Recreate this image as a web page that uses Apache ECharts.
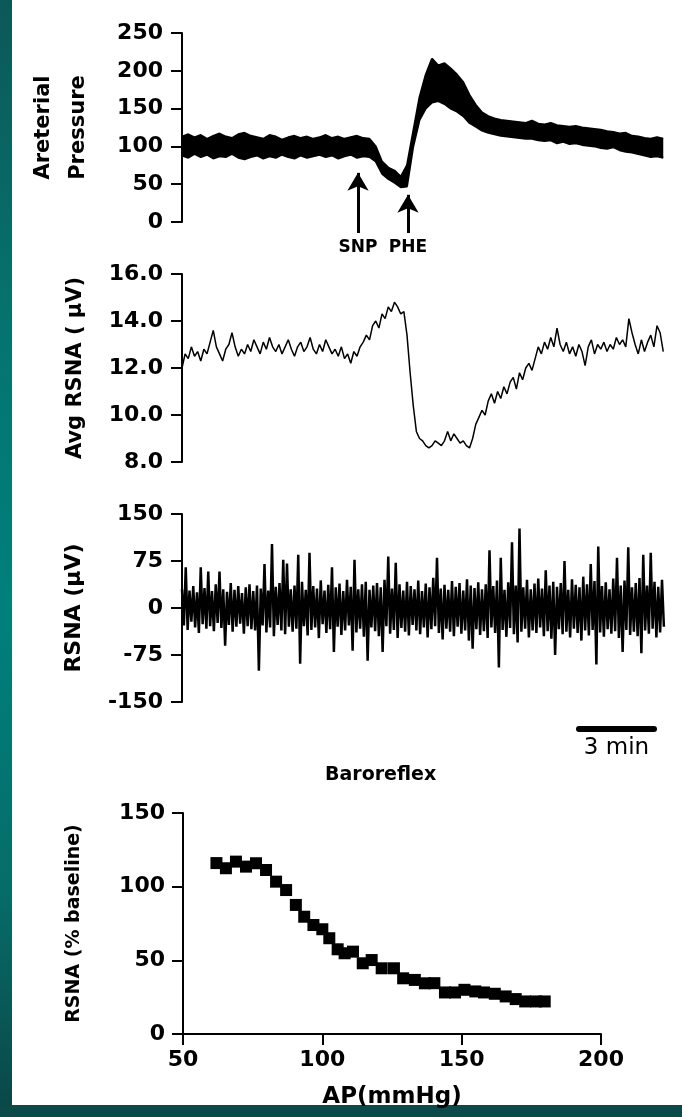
<!DOCTYPE html>
<html>
<head>
<meta charset="utf-8">
<title>Baroreflex</title>
<script src="https://cdn.jsdelivr.net/npm/echarts@6/dist/echarts.min.js"></script>
<style>
  html, body { margin: 0; padding: 0; background: #fff; }
  #chart { width: 682px; height: 1117px; }
</style>
</head>
<body>
<div id="chart"></div>
<script>
// sample spacing of each trace, minutes
var AP_STEP = 0.25
var AVG_STEP = 0.125
var RSNA_STEP = 0.15
var TRACE_MINUTES = 19.3
var PX_PER_MIN = 25

// arterial pressure, envelope of the pulsatile trace (mmHg)
var apUpper = [
  113, 116, 112, 115, 110, 114, 117, 113, 111, 116, 118, 114, 112, 110, 115, 113, 109, 112, 114, 111,
  113, 110, 112, 115, 111, 113, 110, 112, 114, 111, 110,
  100, 80, 72, 68, 60, 75, 120, 165, 195, 216, 207, 210, 203, 195, 185, 168, 155, 145, 140,
  137, 135, 134, 133, 132, 131, 134, 130, 129, 131, 128, 127, 126, 127, 125, 124, 123, 122, 120, 119,
  117, 118, 114, 113, 111, 110, 112, 110
]
var apLower = [
  88, 85, 90, 86, 89, 84, 87, 86, 90, 85, 83, 86, 88, 84, 87, 85, 89, 86, 84, 88,
  85, 87, 89, 86, 88, 84, 87, 89, 85, 87, 86,
  80, 64, 57, 52, 46, 47, 100, 135, 150, 158, 160, 156, 150, 146, 140, 131, 126, 121, 118,
  116, 114, 113, 112, 111, 110, 110, 108, 107, 108, 104, 106, 103, 104, 102, 101, 100, 98, 97, 99,
  95, 93, 92, 90, 88, 86, 87, 85
]

// averaged RSNA (µV)
var avgRsna = [
  12.0, 12.6, 12.4, 12.9, 12.5, 12.7, 12.3, 12.8, 12.6, 13.1,
  13.6, 12.9, 12.6, 12.3, 12.8, 13.0, 13.5, 12.9, 12.5, 12.8,
  12.6, 13.0, 12.7, 13.2, 12.9, 12.6, 13.1, 12.8, 13.3, 12.9,
  12.7, 13.0, 12.6, 12.9, 13.2, 12.8, 12.5, 12.9, 13.1, 12.7,
  12.9, 13.3, 12.8, 12.6, 13.0, 12.7, 13.2, 12.9, 12.6,
  12.8, 12.5, 12.9, 12.4, 12.6, 12.2, 12.7, 12.5, 12.9, 13.1,
  13.4, 13.2, 13.8, 14.0, 13.7, 14.3, 14.1, 14.6, 14.4, 14.8,
  14.6, 14.3, 14.4, 13.4, 11.8, 10.4, 9.3, 9.0, 8.9, 8.7,
  8.6, 8.7, 8.9, 8.8, 8.7, 8.9, 9.3, 8.9, 9.2, 9.0, 8.8, 8.9, 8.7, 8.6, 9.0,
  9.6, 9.9, 10.2, 10.0, 10.6, 10.9, 10.5, 11.0, 10.7, 11.2,
  10.9, 11.4, 11.6, 11.1, 11.8, 11.5, 12.0, 12.2, 11.9,
  12.4, 12.9, 12.6, 13.1, 12.8, 13.3, 12.9, 13.7, 13.0, 12.7,
  13.1, 12.6, 12.9, 12.5, 13.0, 12.7, 12.1, 12.9, 13.2, 12.6,
  13.0, 12.8, 13.1, 12.7, 13.0, 12.8, 13.3, 13.0, 13.2, 12.9,
  14.1, 13.5, 13.0, 12.6, 13.2, 12.7, 13.1, 13.4, 12.9, 13.8,
  13.5, 12.7
]

// raw RSNA (µV): positive and negative excursion of each sample
var rsnaUp = [
  30, 65, 28, 35, 25, 65, 32, 58, 27, 38,
  58, 30, 26, 40, 29, 35, 24, 33, 38, 27,
  36, 31, 70, 28, 102, 34, 40, 77, 71, 30,
  36, 85, 42, 29, 88, 35, 31, 44, 28, 37,
  65, 33, 39, 27, 45, 34, 77, 30, 38, 42,
  29, 36, 40, 33, 45, 82, 31, 72, 38, 28,
  42, 35, 30, 44, 27, 39, 33, 48, 80, 31,
  37, 29, 43, 34, 40, 28, 46, 36, 32, 41,
  30, 38, 92, 35, 44, 80, 29, 41, 105, 36,
  127, 33, 45, 30, 39, 47, 31, 60, 36, 42,
  34, 40, 75, 29, 46, 37, 33, 50, 38, 70,
  43, 98, 35, 41, 30, 47, 80, 36, 44, 97,
  33, 40, 48, 85, 36, 88, 42, 34, 45
]
var rsnaDown = [
  -28, -35, -22, -31, -40, -26, -33, -29, -37, -24,
  -32, -60, -27, -38, -30, -25, -41, -29, -34, -36,
  -100, -28, -39, -31, -45, -27, -36, -42, -30, -38,
  -33, -89, -29, -44, -35, -31, -48, -26, -40, -34,
  -70, -30, -43, -36, -28, -68, -39, -33, -46, -84,
  -31, -37, -45, -70, -29, -41, -35, -48, -32, -38,
  -44, -27, -36, -42, -31, -47, -34, -29, -40, -50,
  -33, -38, -45, -30, -41, -36, -52, -65, -34, -43,
  -37, -48, -31, -40, -95, -35, -46, -32, -42, -55,
  -38, -33, -47, -36, -40, -31, -45, -37, -49, -75,
  -34, -42, -38, -47, -33, -40, -52, -36, -44, -35,
  -90, -39, -46, -34, -41, -37, -48, -70, -35, -43,
  -38, -45, -72, -36, -41, -33, -47, -39, -30
]

// drug injections marked under the pressure trace (minutes, arrow tip in mmHg)
var events = [
  { name: 'SNP', t: 7.04, tip: 65 },
  { name: 'PHE', t: 9.04, tip: 36 }
]
var ARROW_BASE = -14.6
var SCALE_BAR = { from: 15.88, to: 18.88, y: -193, text: '3 min' }

// baroreflex curve
var baroAP = [62, 65.4, 69, 72.6, 76.2, 79.8, 83.4, 87, 90.5, 93.5, 96.8, 100, 102.5, 105.5, 108,
  111, 114.5, 117.7, 121.3, 125.7, 129, 133.2, 136.8, 140.2, 144, 147.6, 151, 154.9, 158,
  161.9, 165.8, 169.4, 172.8, 176.7, 179.8]
var baroRsna = [116, 112.5, 117, 113.6, 115.9, 111.3, 103.4, 97.7, 87.6, 79.6, 74, 71.1, 65, 57.5, 54.8,
  55.9, 48, 50.2, 44.6, 44.6, 37.8, 36.7, 34.4, 34.5, 28.2, 28.2, 30, 28.9, 28.2,
  27.3, 25.5, 23.7, 22.1, 22.1, 22.1]

var FONT = 'DejaVu Sans'

// y axis look shared by all panels
function yAxis (grid, min, max, interval, name, nameGap, nameSize, extra) {
  var axis = {
    type: 'value',
    gridIndex: grid,
    min: min,
    max: max,
    interval: interval,
    name: name,
    nameLocation: 'middle',
    nameRotate: 90,
    nameGap: nameGap,
    nameTextStyle: { color: '#000', fontFamily: FONT, fontWeight: 'bold', fontSize: nameSize },
    axisLine: { show: true, lineStyle: { color: '#000', width: 2 } },
    axisTick: { show: true, length: 11, lineStyle: { color: '#000', width: 2 } },
    axisLabel: { color: '#000', fontFamily: FONT, fontWeight: 'bold', fontSize: 22, margin: 19 },
    splitLine: { show: false }
  }
  return Object.assign(axis, extra || {})
}

function hiddenX (grid) {
  return { type: 'value', gridIndex: grid, min: 0, max: TRACE_MINUTES, show: false }
}

var chart = echarts.init(document.getElementById('chart'), null, { renderer: 'canvas' })

chart.setOption({
  animation: false,
  backgroundColor: '#fff',
  title: {
    text: 'Baroreflex',
    left: 320,
    top: 761,
    textStyle: { color: '#000', fontFamily: FONT, fontWeight: 'bold', fontSize: 19 }
  },
  graphic: [
    { // teal frame on the left
      type: 'rect',
      shape: { x: 0, y: 0, width: 12, height: 1117 },
      style: {
        fill: new echarts.graphic.LinearGradient(0, 0, 0, 1, [
          { offset: 0, color: '#0c5858' },
          { offset: 0.3, color: '#057470' },
          { offset: 0.55, color: '#00807c' },
          { offset: 0.8, color: '#066c69' },
          { offset: 1, color: '#0b4646' }
        ])
      }
    },
    { // and along the bottom
      type: 'rect',
      shape: { x: 0, y: 1105, width: 682, height: 12 },
      style: { fill: '#0c4a4a' }
    }
  ],
  grid: [
    // pressure samples are evenly spaced, so the band sits on a category axis
    { left: 182, top: 33, width: (apUpper.length - 1) * AP_STEP * PX_PER_MIN, height: 189 },
    { left: 182, top: 274, width: TRACE_MINUTES * PX_PER_MIN, height: 188 },
    { left: 182, top: 514, width: TRACE_MINUTES * PX_PER_MIN, height: 188 },
    { left: 183, top: 813, width: 418, height: 221 },
    { left: 182, top: 33, width: TRACE_MINUTES * PX_PER_MIN, height: 220 }, // arrows below AP
    { left: 182, top: 514, width: TRACE_MINUTES * PX_PER_MIN, height: 240 } // time scale bar
  ],
  xAxis: [
    {
      type: 'category',
      gridIndex: 0,
      boundaryGap: false,
      data: apUpper.map(function (v, i) { return i * AP_STEP }),
      show: false
    },
    hiddenX(1),
    hiddenX(2),
    {
      type: 'value',
      gridIndex: 3,
      min: 50,
      max: 200,
      interval: 50,
      name: 'AP(mmHg)',
      nameLocation: 'middle',
      nameGap: 52,
      nameTextStyle: { color: '#000', fontFamily: FONT, fontWeight: 'bold', fontSize: 23 },
      axisLine: { show: true, onZero: false, lineStyle: { color: '#000', width: 2 } },
      axisTick: { show: true, length: 11, lineStyle: { color: '#000', width: 2 } },
      axisLabel: { color: '#000', fontFamily: FONT, fontWeight: 'bold', fontSize: 22, margin: 15 },
      splitLine: { show: false }
    },
    hiddenX(4),
    hiddenX(5)
  ],
  yAxis: [
    yAxis(0, 0, 250, 50, 'Areterial\nPressure', 86, 21, {
      nameTextStyle: { color: '#000', fontFamily: FONT, fontWeight: 'bold', fontSize: 21, lineHeight: 35 }
    }),
    yAxis(1, 8, 16, 2, 'Avg RSNA ( μV)', 96, 21, {
      axisLabel: {
        color: '#000', fontFamily: FONT, fontWeight: 'bold', fontSize: 22, margin: 19,
        formatter: function (v) { return v.toFixed(1) }
      }
    }),
    yAxis(2, -150, 150, 75, 'RSNA (μV)', 97, 22),
    yAxis(3, 0, 150, 50, 'RSNA (% baseline)', 99, 19, {
      axisLabel: { color: '#000', fontFamily: FONT, fontWeight: 'bold', fontSize: 22, margin: 18 }
    }),
    { type: 'value', gridIndex: 4, min: -41, max: 250, show: false },
    { type: 'value', gridIndex: 5, min: -233, max: 150, show: false }
  ],
  series: [
    { // lower edge of the pressure band
      type: 'line',
      xAxisIndex: 0,
      yAxisIndex: 0,
      stack: 'ap',
      symbol: 'none',
      data: apLower,
      lineStyle: { color: '#000', width: 2 }
    },
    { // filled up to the upper edge
      type: 'line',
      xAxisIndex: 0,
      yAxisIndex: 0,
      stack: 'ap',
      symbol: 'none',
      data: apUpper.map(function (v, i) { return v - apLower[i] }),
      lineStyle: { color: '#000', width: 2 },
      areaStyle: { color: '#000', opacity: 1 }
    },
    {
      type: 'line',
      xAxisIndex: 1,
      yAxisIndex: 1,
      symbol: 'none',
      data: avgRsna.map(function (v, i) { return [i * AVG_STEP, v] }),
      lineStyle: { color: '#000', width: 1.5 }
    },
    {
      type: 'line',
      xAxisIndex: 2,
      yAxisIndex: 2,
      symbol: 'none',
      data: (function () {
        var pts = []
        for (var i = 0; i < rsnaUp.length; i++) {
          pts.push([i * RSNA_STEP, rsnaUp[i]])
          pts.push([i * RSNA_STEP + RSNA_STEP / 2, rsnaDown[i]])
        }
        return pts
      })(),
      lineStyle: { color: '#000', width: 2.5, join: 'miter' }
    },
    {
      type: 'scatter',
      xAxisIndex: 3,
      yAxisIndex: 3,
      symbol: 'rect',
      symbolSize: 12,
      itemStyle: { color: '#000', opacity: 1 },
      data: baroAP.map(function (x, i) { return [x, baroRsna[i]] })
    },
    { // SNP / PHE arrows
      type: 'line',
      xAxisIndex: 4,
      yAxisIndex: 4,
      data: [],
      z: 5,
      markLine: {
        silent: true,
        animation: false,
        symbol: ['none', 'arrow'],
        symbolSize: [16, 18],
        lineStyle: { color: '#000', width: 3, type: 'solid' },
        label: {
          show: true,
          position: 'start',
          distance: 6,
          formatter: '{b}',
          color: '#000',
          fontFamily: FONT,
          fontWeight: 'bold',
          fontSize: 17
        },
        data: events.map(function (e) {
          return [{ name: e.name, coord: [e.t, ARROW_BASE] }, { coord: [e.t, e.tip] }]
        })
      }
    },
    { // 3 min scale bar
      type: 'line',
      xAxisIndex: 5,
      yAxisIndex: 5,
      data: [],
      markLine: {
        silent: true,
        animation: false,
        symbol: ['none', 'none'],
        lineStyle: { color: '#000', width: 6, type: 'solid', cap: 'round' },
        label: {
          show: true,
          position: 'insideMiddleBottom',
          distance: 8,
          formatter: SCALE_BAR.text,
          color: '#000',
          fontFamily: FONT,
          fontSize: 23
        },
        data: [[{ coord: [SCALE_BAR.from, SCALE_BAR.y] }, { coord: [SCALE_BAR.to, SCALE_BAR.y] }]]
      }
    }
  ]
})
</script>
</body>
</html>
